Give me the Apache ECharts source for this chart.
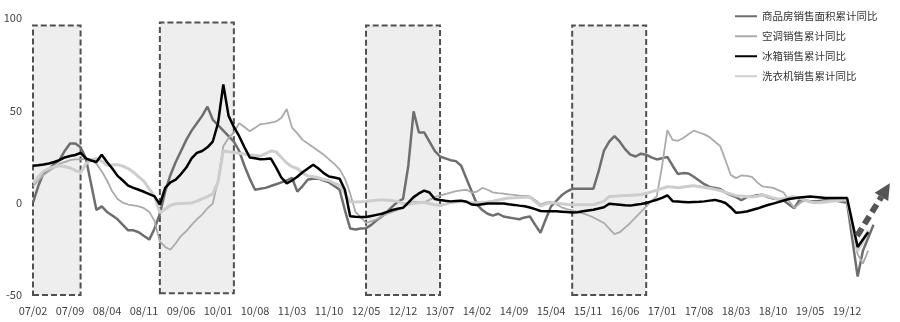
<!DOCTYPE html>
<html>
<head>
<meta charset="utf-8">
<script src="https://cdn.jsdelivr.net/npm/echarts@6/dist/echarts.min.js"></script>
<style>
  html, body { margin: 0; padding: 0; background: #fff; }
  #chart { width: 900px; height: 322px; }
</style>
</head>
<body>
<div id="chart"></div>
<script>
// 月份：2007/02 - 2020/05
var startYear = 2007, startMonth = 2, monthCount = 160
var months = []
for (var k = 0; k < monthCount; k++) {
  var m = startMonth - 1 + k
  var yy = (startYear + Math.floor(m / 12)) % 100
  var mm = m % 12 + 1
  months.push((yy < 10 ? '0' : '') + yy + '/' + (mm < 10 ? '0' : '') + mm)
}

var seriesNames = ['商品房销售面积累计同比', '空调销售累计同比', '冰箱销售累计同比', '洗衣机销售累计同比']

// 商品房销售面积累计同比
var realEstate = [
  0, 9, 16, 18, 21, 23, 28, 32, 32, 30,
  24, 10, -4, -2, -5, -7, -9, -12, -15, -15,
  -16, -18, -20, -14, -6, 6, 15, 22, 28, 34,
  39, 43, 47, 52, 45, 42, 39, 36, 33, 28,
  20, 13, 7, 7.5, 8, 9, 10, 11, 12, 13.5,
  6, 9, 12.5, 13, 13, 12, 11, 9, 7, -4,
  -14, -14.5, -14, -13.8, -12, -9.5, -7.5, -5, -2, 0.5,
  2, 20, 49.5, 38, 38, 33, 28, 25, 24, 23,
  22.5, 20, 13, 6, -1, -4, -6, -7, -6, -7.5,
  -8, -8.5, -9, -8, -7.5, -12, -16.3, -9, -2, 1,
  4, 6, 7.5, 7.5, 7.5, 7.5, 7.5, 17, 28, 33,
  36, 33, 29, 26, 25, 26.5, 26, 24.5, 23.4, 24,
  24.8, 20, 15.5, 16, 15.8, 14, 12, 10, 8.5, 8,
  7.4, 5.5, 4.1, 3, 1.3, 3, 3.4, 4, 4.3, 3,
  2.2, 1.8, 1.3, -1, -3, 1.5, 1.2, 0.8, 0.7, 1,
  1.4, 1.6, 1, 0.5, 0, null, -40, -26, -19, -12
]
// 空调销售累计同比
var airCon = [
  9, 12, 15, 17, 19, 21, 22, 23, 23.4, 23.5,
  23.7, 23.6, 21, 17, 12, 6, 2, 0, -1, -1.5,
  -2, -3, -5, -10, -21, -24, -25.5, -22, -18, -15.5,
  -12, -9, -6.5, -3, -0.5, 12, 30.6, 35, 38, 43,
  41, 38.7, 40.5, 42.5, 42.8, 43.3, 44, 46, 50.7, 40.6,
  37.5, 34, 32, 30, 28, 26, 23.4, 21, 18, 13,
  5, -5, -8, -11, -10, -9, -7.5, -6, -5, -3.8,
  -2.5, -0.7, 0.5, 0.3, 0, 1.5, 3, 3.8, 4.6, 5.4,
  6.2, 6.7, 7, 5.5, 6, 8, 7, 5.6, 5.2, 4.9,
  4.5, 4.2, 3.8, 3.6, 3.4, 1.5, -1, 0, 0.5, -1,
  -2.5, -3.5, -4.2, -5, -5.8, -6.8, -8, -9.5, -11, -14,
  -17, -16, -13.5, -11, -8, -5, -2, 1, 3.4, 19.7,
  39.3, 34, 33.5, 35, 37, 39, 38, 37, 35.5, 33,
  30.6, 23, 15, 13.3, 14.7, 14.5, 14, 11, 8.8, 8.4,
  8, 6.8, 5.5, 1, -2.9, -0.5, 1.6, 0.9, 0.3, 0.6,
  1.1, 1.6, 1.6, 1.6, 1.6, null, -28, -33, -26, null
]
// 冰箱销售累计同比
var fridge = [
  20, 20.3, 20.7, 21.2, 22, 23, 24.5, 25.3, 25.8, 27,
  24, 22.8, 22, 26, 22, 18.5, 14.5, 12, 9.2, 8,
  7, 5.9, 4.6, 3.4, -1, 8, 11, 12.5, 15.5, 19,
  24, 27, 28, 30, 33, 43, 64, 47, 41, 36,
  30, 24.5, 24, 23.5, 23.6, 23.9, 19, 13.5, 10.5, 12,
  14, 16.5, 18.5, 20.5, 18.5, 16, 14.2, 13.6, 13, 7,
  -7.4, -7.6, -7.7, -7.8, -7.2, -6.6, -6, -5, -4, -3.3,
  -2.8, 0, 3, 5, 6.5, 5.5, 2, 1.4, 1, 0.7,
  0.9, 1.1, 0.5, -1, -1.3, -0.8, -0.5, -0.5, -0.5, -0.5,
  -0.9, -1.2, -1.6, -1.9, -2.6, -3.5, -4.5, -4.7, -4.7, -4.7,
  -4.9, -5.1, -5.3, -5.2, -4.7, -4.2, -3.8, -3.2, -2.5, -0.6,
  -0.8, -1.1, -1.4, -1.6, -1.1, -0.7, -0.2, 0.7, 1.6, 2.6,
  4, 0.8, 0.6, 0.4, 0.2, 0.4, 0.5, 0.7, 1.1, 1.5,
  0.8, -0.2, -2.6, -5.5, -5.2, -4.8, -4, -3.2, -2.2, -1.3,
  -0.5, 0.3, 1.2, 2, 2.4, 2.8, 3.1, 3.4, 3.1, 2.8,
  2.5, 2.5, 2.5, 2.5, 2.5, null, -24, -20, -16, null
]
// 洗衣机销售累计同比
var washer = [
  10.5, 14, 17, 18.5, 19.5, 20, 19.5, 18.8, 17.5, 16.2,
  21, 23, 24, 22.5, 20.2, 20.4, 20.6, 19.8, 18.5, 16.5,
  14, 11.5, 7.5, 3.4, -5.5, -3.5, -1.5, -0.6, -0.5, -0.3,
  -0.2, 0.8, 2, 3.3, 4.8, 11, 28, 27.6, 27.3, 26.8,
  26.4, 25.9, 25.5, 25.2, 26.5, 28, 27.5, 24.5, 21.5, 19.5,
  18.5, 16, 14.5, 14, 13.5, 12.5, 12, 10.5, 9.3, 5,
  0.5, 0.4, 0.5, 0.7, 1, 1.3, 1.6, 1.3, 1, 0.7,
  -0.5, -1, -0.3, 0, 0.2, -0.5, -1.1, -1.5, -0.8, 0.1,
  0.4, 0.6, 0.5, 0, 0, 0.2, 0.4, 0.8, 1.4, 2,
  2.5, 2.6, 2.8, 2.9, 3, 0.5, -1.8, -0.8, 0.1, -0.3,
  -0.6, -1, -1.1, -1.1, -1.1, -1.1, -1.1, -0.2, 0.7, 3.3,
  3.5, 3.7, 3.9, 4, 4.2, 4.4, 5.1, 5.9, 6.8, 7.7,
  8.6, 8.5, 8.1, 8.5, 8.9, 9.2, 8.8, 8.2, 7.8, 7.2,
  6.6, 5.6, 4.7, 3.8, 3.6, 3.3, 3.1, 3.5, 4.2, 3.5,
  2.6, 1.8, 2.2, 2.8, 3.3, 2.5, 1.4, 0.3, -0.1, 0.1,
  0.4, 0.7, 1, 1.3, 1.6, null, -26, -21, -15, null
]

// 阴影区间（起止月份）及上沿
var shadeStart = ['07/02', '09/02', '12/05', '15/08']
var shadeEnd = ['07/11', '10/04', '13/07', '16/10']
var shadeTop = [96, 97.5, 96, 96]
var shadeBottom = [-50, -49, -50, -50]

// 右下角趋势箭头（月份序号，数值）
var arrowFrom = [155.9, -18]
var arrowTo = [162.1, 10.5]

var shadeData = shadeStart.map(function (s, k) {
  return [{ xAxis: s, yAxis: shadeBottom[k] }, { xAxis: shadeEnd[k], yAxis: shadeTop[k] }]
})

var chart = echarts.init(document.getElementById('chart'))
var option = {
  animation: false,
  textStyle: { fontFamily: '"Noto Sans CJK SC", "Open Sans", sans-serif' },
  legend: {
    data: seriesNames,
    orient: 'vertical',
    left: 729,
    top: 6,
    itemWidth: 22,
    itemHeight: 12,
    itemGap: 9.5,
    itemStyle: { opacity: 0 },
    textStyle: { fontSize: 10.5, color: '#333' }
  },
  grid: { left: 33, right: 26.5, top: 18, bottom: 27, outerBoundsMode: 'none' },
  xAxis: {
    type: 'category',
    data: months,
    boundaryGap: false,
    axisLine: { show: false },
    axisTick: { show: false },
    splitLine: { show: false },
    axisLabel: { interval: 6, margin: 10, fontSize: 11, color: '#444' }
  },
  yAxis: {
    type: 'value',
    min: -50,
    max: 100,
    interval: 50,
    axisLine: { show: false },
    axisTick: { show: false },
    splitLine: { show: false },
    axisLabel: { margin: 11, fontSize: 11, color: '#444' }
  },
  series: [
    {
      name: 'shade',
      type: 'line',
      z: 1,
      silent: true,
      data: [],
      markArea: {
        silent: true,
        itemStyle: {
          color: '#eeeeee',
          borderColor: '#505050',
          borderWidth: 2,
          borderType: [6, 3]
        },
        data: shadeData
      }
    },
    {
      name: seriesNames[0], type: 'line', data: realEstate, z: 3,
      symbol: 'none', connectNulls: true,
      itemStyle: { color: '#6e6e6e' },
      lineStyle: { color: '#6e6e6e', width: 2.5 }
    },
    {
      name: seriesNames[1], type: 'line', data: airCon, z: 3,
      symbol: 'none', connectNulls: true,
      itemStyle: { color: '#ababab' },
      lineStyle: { color: '#ababab', width: 1.8 }
    },
    {
      name: seriesNames[2], type: 'line', data: fridge, z: 4,
      symbol: 'none', connectNulls: true,
      itemStyle: { color: '#000' },
      lineStyle: { color: '#000', width: 2.5 }
    },
    {
      name: seriesNames[3], type: 'line', data: washer, z: 3,
      symbol: 'none', connectNulls: true,
      itemStyle: { color: '#cdcdcd' },
      lineStyle: { color: '#cdcdcd', width: 3 }
    }
  ]
}
chart.setOption(option)

// 箭头：用坐标轴换算像素
function drawArrow () {
  var p0 = chart.convertToPixel({ xAxisIndex: 0, yAxisIndex: 0 }, [0, 0])
  var p1 = chart.convertToPixel({ xAxisIndex: 0, yAxisIndex: 0 }, [1, 0])
  var step = p1[0] - p0[0]
  var x1 = p0[0] + step * arrowFrom[0]
  var y1 = chart.convertToPixel({ yAxisIndex: 0 }, arrowFrom[1])
  var x2 = p0[0] + step * arrowTo[0]
  var y2 = chart.convertToPixel({ yAxisIndex: 0 }, arrowTo[1])
  var dx = x2 - x1, dy = y2 - y1
  var len = Math.sqrt(dx * dx + dy * dy)
  var ux = dx / len, uy = dy / len
  var headLen = 16, headHalf = 8
  var bx = x2 - ux * headLen, by = y2 - uy * headLen
  chart.setOption({
    graphic: [
      {
        type: 'line', z: 10,
        shape: { x1: x1, y1: y1, x2: bx, y2: by },
        style: { stroke: '#555', lineWidth: 6, lineDash: [9, 5] }
      },
      {
        type: 'polygon', z: 10,
        shape: { points: [[x2, y2], [bx - uy * headHalf, by + ux * headHalf], [bx + uy * headHalf, by - ux * headHalf]] },
        style: { fill: '#555' }
      }
    ]
  })
}
drawArrow()
</script>
</body>
</html>
